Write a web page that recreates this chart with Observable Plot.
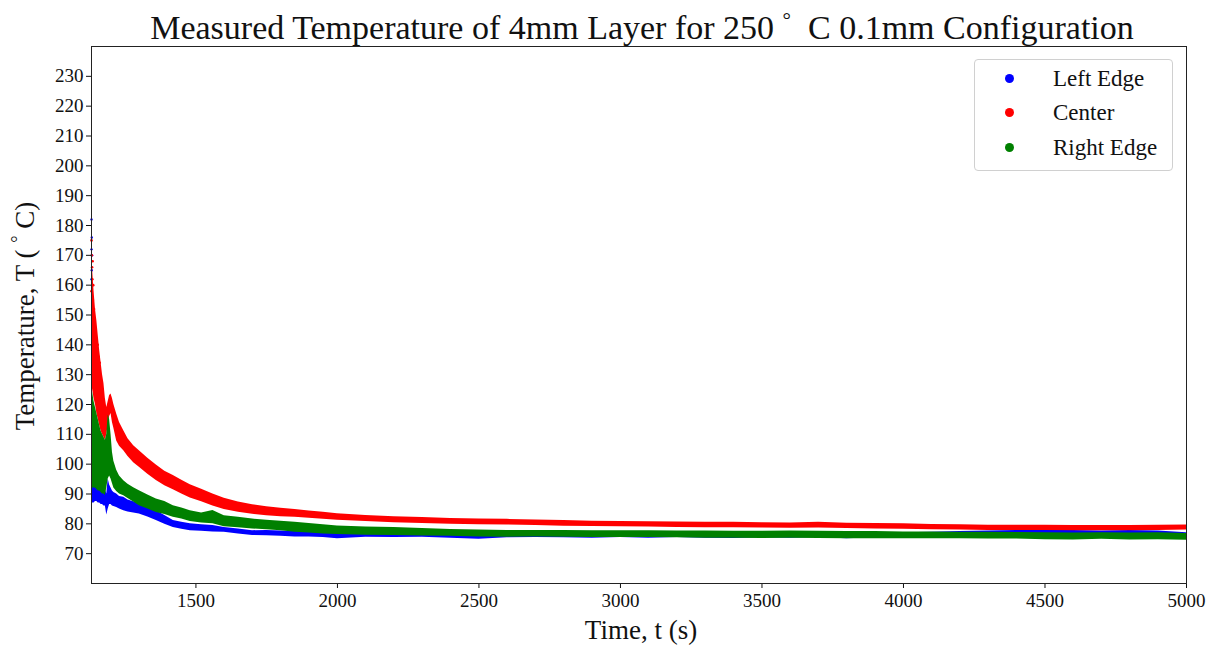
<!DOCTYPE html>
<html>
<head>
<meta charset="utf-8">
<script src="https://cdn.jsdelivr.net/npm/d3@7"></script>
<script src="https://cdn.jsdelivr.net/npm/@observablehq/plot@0.6"></script>
<style>
  html, body { margin: 0; padding: 0; background: white; }
  #wrap { position: relative; width: 1216px; height: 649px; font-family: "Liberation Serif", "Times New Roman", serif; color: #111; }
  #title { position: absolute; left: 0; width: 1284px; top: 8px; text-align: center; font-size: 34px; white-space: nowrap; }
  #xlabel { position: absolute; left: 0; width: 1282px; top: 615px; text-align: center; font-size: 27px; }
  #ylabel { position: absolute; left: 24px; top: 316px; transform: translate(-50%, -50%) rotate(-90deg); font-size: 27px; white-space: nowrap; }
  #legend { position: absolute; left: 974px; top: 59px; width: 199px; height: 112px; border: 1px solid #d0d0d0; border-radius: 4px; background: rgba(255,255,255,0.9); box-sizing: border-box; }
  .row { position: absolute; left: 0; height: 30px; font-size: 23px; line-height: 30px; }
  .dot { position: absolute; left: 30px; top: 10px; width: 9px; height: 9px; border-radius: 50%; }
  .lab { position: absolute; left: 78px; top: 0; white-space: nowrap; }
</style>
</head>
<body>
<div id="wrap">
  <div id="chart"></div>
  <div id="title">Measured Temperature of 4mm Layer for 250&nbsp;<sup style="font-size:21px">°</sup>&nbsp; C 0.1mm Configuration</div>
  <div id="xlabel">Time, t (s)</div>
  <div id="ylabel">Temperature, T ( <sup style="font-size:18px">°</sup> C)</div>
  <div id="legend"></div>
</div>
<script>
// ---- data ----
const seriesNames = ["Left Edge", "Center", "Right Edge"];
const seriesColors = ["#0000ff", "#ff0000", "#008000"];
const xTicks = [1500, 2000, 2500, 3000, 3500, 4000, 4500, 5000];
const yTicks = [70, 80, 90, 100, 110, 120, 130, 140, 150, 160, 170, 180, 190, 200, 210, 220, 230];

const time = [1131,1135,1140,1145,1150,1155,1160,1165,1170,1175,1180,1185,1190,1195,1200,1205,1210,
  1220,1230,1245,1260,1280,1300,1330,1360,1390,1420,1450,1480,1520,1560,1600,1650,1700,1750,1800,1850,1900,1950,2000,
  2100,2200,2300,2400,2500,2600,2700,2800,2900,3000,3100,3200,3300,3400,3500,3600,3700,3800,3900,4000,
  4100,4200,4300,4400,4500,4600,4700,4800,4900,5000];

// Center band (low / high edge of the scatter band)
const centerLow = [128,125,122,120,117,115,113,111,110,109,108,110,113,116,117,114,112,
  107.8,106,104.5,102.6,100.5,99,96.6,94.5,92.8,91.4,90,88.7,87.4,86,84.8,83.9,83.2,82.7,82.4,82.2,81.9,81.5,81.2,
  80.8,80.4,80.1,79.9,79.7,79.6,79.4,79.2,79.1,79.0,78.9,78.8,78.7,78.7,78.6,78.5,78.6,78.4,78.3,78.2,
  78.0,77.9,77.8,77.8,77.8,77.7,77.7,77.7,77.8,77.9];
const centerHigh = [172,165,158,152,148,143,138,134,130,127,122,119,121,123,123.5,122,120,
  116.8,114,111.2,108.5,106.2,104.5,102,99.7,97.6,96.2,94.6,93.1,91.6,90,88.6,87.3,86.4,85.7,85.2,84.8,84.3,83.9,83.4,
  82.8,82.4,82.1,81.8,81.6,81.5,81.3,81.1,80.9,80.8,80.7,80.6,80.5,80.5,80.4,80.3,80.5,80.2,80.1,80.0,
  79.8,79.7,79.5,79.5,79.5,79.4,79.4,79.4,79.5,79.6];

// Right Edge band
const rightLow = [92,92,92,92,91.5,91,91,90.5,90,90,89.5,92,95,96,95,93.5,92,
  90.8,90,89.4,88.5,87.3,86.1,85,83.8,83.1,82.2,81.6,80.8,80.3,80.0,79.0,78.7,78.3,78.0,77.7,77.2,76.9,76.6,76.4,
  76.2,76.1,75.9,75.8,75.6,75.5,75.6,75.5,75.4,75.4,75.4,75.3,75.2,75.2,75.1,75.2,75.1,75.0,75.0,75.0,
  75.0,75.0,74.9,74.9,74.7,74.6,74.8,74.6,74.7,74.5];
const rightHigh = [127,124,121,119,117,115,113,111,110,109,108,110,116.5,115,110,104,101,
  98,96,94.4,93.3,92.1,91.1,89.7,88.3,87.5,86.1,85.3,84.4,83.6,84.5,82.7,82.2,81.6,81.2,80.9,80.5,80.1,79.7,79.3,
  78.9,78.8,78.4,78.1,77.9,77.8,77.8,77.8,77.7,77.7,77.7,77.6,77.6,77.5,77.5,77.6,77.5,77.4,77.4,77.3,
  77.3,77.2,77.2,77.1,77.0,76.9,77.0,76.9,77.0,76.8];

// Left Edge band
const leftLow = [86.5,87,87,87.5,87.5,87,87,86.5,86.5,86,86,83,85,86.5,86.5,86,85.8,
  85.5,85,84.4,84,83.6,83.3,82.3,81.1,79.9,78.8,78.2,77.7,77.5,77.3,77.2,76.6,76.1,76.0,75.8,75.6,75.6,75.4,75.0,
  75.5,75.4,75.5,75.2,74.8,75.3,75.4,75.3,75.2,75.4,75.2,75.4,75.2,75.1,75.3,75.2,75.4,75.0,75.3,75.2,
  75.3,75.4,75.4,75.5,75.4,75.3,75.5,75.6,75.4,75.2];
const leftHigh = [94,94.5,94,93.5,93,93,92.5,92,92,91.5,91.5,90,95,93,92,91,90.5,
  90,89.2,88.9,88,87.4,86.7,85.6,84.4,82.8,81.1,80.5,80.0,79.7,79.4,78.8,78.3,77.7,77.8,77.6,77.4,77.3,77.2,77.2,
  77.1,77.0,77.0,76.9,77.0,76.9,77.0,77.1,77.0,77.0,77.2,77.0,77.1,77.0,76.9,77.0,77.1,77.0,76.8,77.0,
  77.2,77.4,77.6,77.8,78.2,77.8,77.6,77.8,77.6,77.0];

// isolated early outlier points
const centerOutT = [1131,1132,1133,1134,1131,1135,1136,1137,1138,1140,1142,1145,1148,1150,1153,1156,1160];
const centerOutV = [175,170,166,162,158,168,155,160,150,152,147,145,141,139,140,136,134];
const leftOutT = [1131,1132,1131,1133,1132,1134,1131,1135];
const leftOutV = [182,176,172,170,165,160,162,156];

// ---- build tables ----
const band = (lo, hi) => time.map((t, i) => ({t, lo: lo[i], hi: hi[i]}));
const leftRows = band(leftLow, leftHigh);
const centerRows = band(centerLow, centerHigh);
const rightRows = band(rightLow, rightHigh);
const centerOut = centerOutT.map((t, i) => ({t, v: centerOutV[i]}));
const leftOut = leftOutT.map((t, i) => ({t, v: leftOutV[i]}));

const chart = Plot.plot({
  width: 1216,
  height: 649,
  marginTop: 46,
  marginBottom: 66,
  marginLeft: 91,
  marginRight: 30,
  style: {fontFamily: "Liberation Serif, Times New Roman, serif", fontSize: "19px", color: "#111", background: "white"},
  x: {domain: [1131, 5000], ticks: xTicks, tickFormat: d => String(d), tickSize: 5, label: null},
  y: {domain: [60, 240], ticks: yTicks, tickFormat: d => String(d), tickSize: 5, label: null},
  marks: [
    Plot.areaY(leftRows, {x: "t", y1: "lo", y2: "hi", fill: seriesColors[0]}),
    Plot.dot(leftOut, {x: "t", y: "v", r: 1.2, fill: seriesColors[0]}),
    Plot.areaY(centerRows, {x: "t", y1: "lo", y2: "hi", fill: seriesColors[1]}),
    Plot.dot(centerOut, {x: "t", y: "v", r: 1.3, fill: seriesColors[1]}),
    Plot.areaY(rightRows, {x: "t", y1: "lo", y2: "hi", fill: seriesColors[2]}),
    Plot.axisX({ticks: xTicks, tickFormat: d => String(d), tickSize: 5, tickPadding: 5, label: null}),
    Plot.axisY({ticks: yTicks, tickFormat: d => String(d), tickSize: 5, tickPadding: 3, label: null}),
    Plot.frame({stroke: "#222", strokeWidth: 1})
  ]
});
document.getElementById("chart").appendChild(chart);

const legend = document.getElementById("legend");
const rowTops = [4, 38, 73];
seriesNames.forEach((name, i) => {
  const row = document.createElement("div");
  row.className = "row";
  row.style.top = rowTops[i] + "px";
  row.innerHTML = `<span class="dot" style="background:${seriesColors[i]}"></span><span class="lab">${name}</span>`;
  legend.appendChild(row);
});
</script>
</body>
</html>
